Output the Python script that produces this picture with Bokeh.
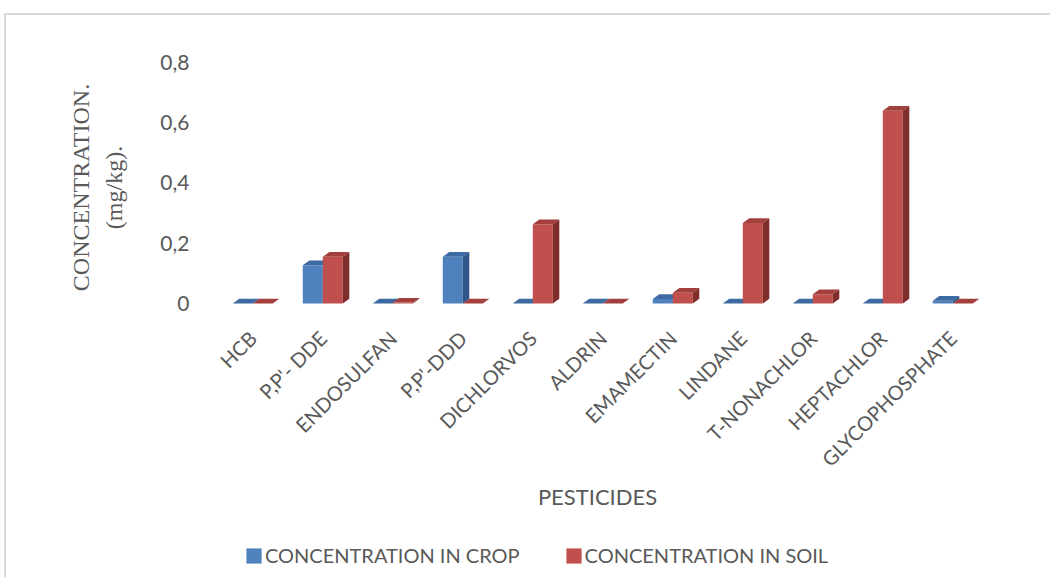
import math

from bokeh.embed import file_html
from bokeh.layouts import column
from bokeh.models import (ColumnDataSource, FixedTicker, Legend, LegendItem,
                          LinearAxis, Range1d)
from bokeh.plotting import figure
from bokeh.resources import INLINE

# Residue levels (mg/kg) measured per pesticide
pesticides = ["HCB", "P,P'- DDE", "ENDOSULFAN", "P,P'-DDD", "DICHLORVOS",
              "ALDRIN", "EMAMECTIN", "LINDANE", "T-NONACHLOR", "HEPTACHLOR",
              "GLYCOPHOSPHATE"]
crop = [0.0, 0.127, 0.0, 0.155, 0.0, 0.0, 0.015, 0.0, 0.0, 0.0, 0.009]
soil = [0.0, 0.155, 0.003, 0.0, 0.263, 0.0, 0.036, 0.267, 0.031, 0.64, 0.0]

y_ticks = [0, 0.2, 0.4, 0.6, 0.8]
y_tick_labels = ["0", "0,2", "0,4", "0,6", "0,8"]

series_names = ["CONCENTRATION IN CROP", "CONCENTRATION IN SOIL"]

# face colours: front, top, side
BLUE = ("#4f81bd", "#3d6aa2", "#2f5686")
RED = ("#c0504d", "#a3403d", "#7f2e2c")

TEXT = "#595959"
FONT = "Lato"

# bar geometry in data units (width of one bar, pseudo-3D depth offsets)
BAR_W = 0.286
DX = 0.093
DY = 0.0156

p = figure(width=1044, height=520,
           x_range=Range1d(-0.747, 10.596), y_range=Range1d(-0.1029, 0.873),
           x_axis_type=None, y_axis_type=None,
           output_backend="svg", toolbar_location=None,
           min_border_left=194, min_border_right=56,
           min_border_top=25, min_border_bottom=201,
           outline_line_color=None, background_fill_color="white",
           border_fill_color="white")
p.xgrid.visible = False
p.ygrid.visible = False


def bar_faces(values, offset):
    xs = list(range(len(values)))
    left = [x + offset for x in xs]
    right = [x + offset + BAR_W for x in xs]
    front = ColumnDataSource(dict(left=left, right=right, top=values,
                                  bottom=[0] * len(values)))
    top_xs = [[l, r, r + DX, l + DX] for l, r in zip(left, right)]
    top_ys = [[v, v, v + DY, v + DY] for v in values]
    side_xs = [[r, r, r + DX, r + DX] for r in right]
    side_ys = [[0, v, v + DY, DY] for v in values]
    return front, (top_xs, top_ys), (side_xs, side_ys)


fronts = []
for values, offset, colors in ((crop, -BAR_W, BLUE), (soil, 0.0, RED)):
    front, top, side = bar_faces(values, offset)
    p.quad(left="left", right="right", top="top", bottom="bottom",
           source=front, fill_color=colors[0], line_color=None)
    p.patches(xs=top[0], ys=top[1], fill_color=colors[1], line_color=None)
    p.patches(xs=side[0], ys=side[1], fill_color=colors[2], line_color=None)
    fronts.append((front, colors))

# value axis
yaxis = LinearAxis(ticker=FixedTicker(ticks=y_ticks),
                   major_label_overrides=dict(zip(y_ticks, y_tick_labels)))
yaxis.axis_line_color = None
yaxis.major_tick_line_color = None
yaxis.minor_tick_line_color = None
yaxis.major_tick_out = 0
yaxis.major_label_standoff = 11
yaxis.major_label_text_font = FONT
yaxis.major_label_text_font_size = "21px"
yaxis.major_label_text_color = TEXT
yaxis.axis_label = "CONCENTRATION.\n(mg/kg)."
yaxis.axis_label_text_font = "Liberation Serif"
yaxis.axis_label_text_font_style = "normal"
yaxis.axis_label_text_font_size = "24px"
yaxis.axis_label_text_color = TEXT
yaxis.axis_label_text_line_height = 1.3
yaxis.axis_label_standoff = 30
p.add_layout(yaxis, "left")

# category axis
xticks = list(range(len(pesticides)))
xaxis = LinearAxis(ticker=FixedTicker(ticks=xticks),
                   major_label_overrides=dict(zip(xticks, pesticides)))
xaxis.axis_line_color = None
xaxis.major_tick_line_color = None
xaxis.minor_tick_line_color = None
xaxis.major_tick_out = 0
xaxis.major_label_standoff = 0
xaxis.major_label_orientation = math.pi / 4
xaxis.major_label_text_font = FONT
xaxis.major_label_text_font_size = "20px"
xaxis.major_label_text_color = TEXT
xaxis.axis_label = "PESTICIDES"
xaxis.axis_label_text_font = FONT
xaxis.axis_label_text_font_style = "normal"
xaxis.axis_label_text_font_size = "22px"
xaxis.axis_label_text_color = TEXT
xaxis.axis_label_standoff = 1
p.add_layout(xaxis, "below")

# legend strip under the chart; its swatches come from hidden copies of the
# front faces so the key needs no extra marks
key = figure(width=1044, height=42, x_range=Range1d(0, 1), y_range=Range1d(0, 1),
             x_axis_type=None, y_axis_type=None,
             output_backend="svg", toolbar_location=None,
             min_border=0, outline_line_color=None,
             background_fill_color="white", border_fill_color="white")
key.xgrid.visible = False
key.ygrid.visible = False
swatches = []
for front, colors in fronts:
    r = key.quad(left="left", right="right", top="top", bottom="bottom",
                 source=front, fill_color=colors[0], line_color=None)
    r.visible = False
    swatches.append(r)
legend = Legend(items=[LegendItem(label=n, renderers=[r])
                       for n, r in zip(series_names, swatches)],
                orientation="horizontal", location=(44, 10),
                border_line_color=None, background_fill_alpha=0,
                inactive_fill_alpha=0,
                label_text_font=FONT, label_text_font_size="20px",
                label_text_color=TEXT, glyph_width=19, glyph_height=19,
                label_standoff=2, spacing=44, padding=0, margin=0)
key.add_layout(legend)

page = column(p, key, spacing=0,
              styles={"margin-left": "4px", "margin-top": "13px",
                      "border-top": "2px solid #d9d9d9",
                      "border-left": "2px solid #d9d9d9"})

open("out.html", "w").write(file_html(page, INLINE))
